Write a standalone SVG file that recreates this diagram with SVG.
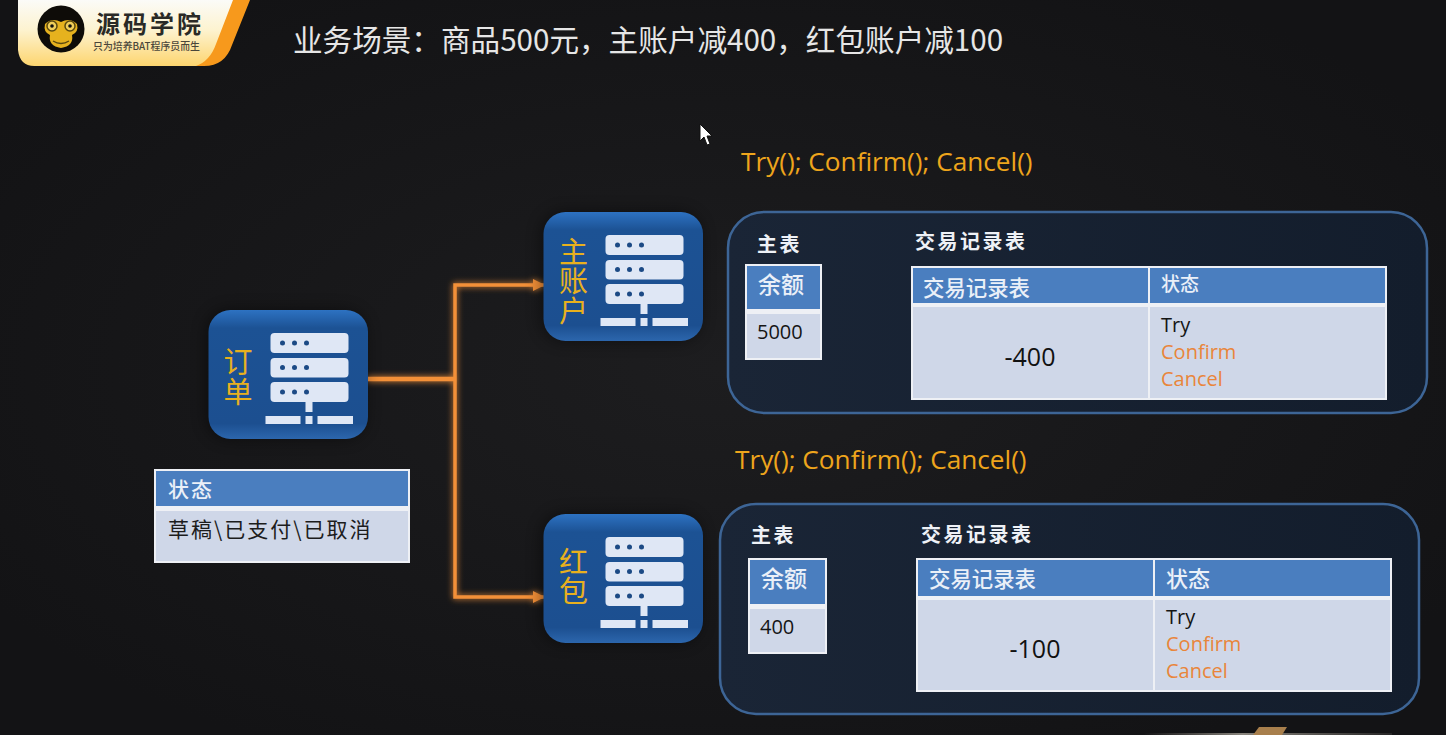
<svg xmlns="http://www.w3.org/2000/svg" width="1446" height="735" viewBox="0 0 1446 735">
<style>
text{font-family:"Noto Sans CJK SC","Noto Sans",sans-serif}
.lat{font-family:"Open Sans","Noto Sans CJK SC",sans-serif}
.api{font-size:26.200px;fill:#eea51c}
.nodeT{font-size:29px;fill:#e8b01e;writing-mode:vertical-rl;letter-spacing:.5px}
.cap{font-size:20px;fill:#eef1f6;font-weight:700;letter-spacing:2.500px}
.th{fill:#4a7ebf}
.td{fill:#cfd7e8}
.frame{fill:#eef0f5}
.thT{font-size:21.400px;fill:#eaf0f8;font-weight:500}
.num{font-size:25px;fill:#111;text-anchor:middle}
.sm{font-size:20px;fill:#151515}
.or{font-size:20px;fill:#e9853a}
.panel{fill:url(#panelG);stroke:#3d6596;stroke-width:2.500}
.wire{fill:none;stroke:#f39038;stroke-linejoin:miter}
</style>
<defs>
<radialGradient id="bg" cx="50%" cy="50%" r="60%"><stop offset="0" stop-color="#1d1d1f"/><stop offset="1" stop-color="#131315"/></radialGradient>
<linearGradient id="panelG" x1="0" y1="0" x2="1" y2="0"><stop offset="0" stop-color="#1a2536"/><stop offset="1" stop-color="#131d2c"/></linearGradient>
<linearGradient id="nodeG" x1="0" y1="0" x2="0" y2="1"><stop offset="0" stop-color="#2d72c2"/><stop offset=".14" stop-color="#1c5294"/><stop offset=".88" stop-color="#1c4f90"/><stop offset="1" stop-color="#2c66ad"/></linearGradient>
<linearGradient id="logoG" x1="0" y1="0" x2="0" y2="1"><stop offset="0" stop-color="#fbfbf8"/><stop offset=".45" stop-color="#fdf3d0"/><stop offset="1" stop-color="#fdd56f"/></linearGradient>
<linearGradient id="strip" x1="0" y1="0" x2="1" y2="0"><stop offset="0" stop-color="#77736c" stop-opacity="0"/><stop offset=".4" stop-color="#8a867e"/><stop offset="1" stop-color="#77736c" stop-opacity=".2"/></linearGradient>
<filter id="glow" x="-20%" y="-20%" width="140%" height="140%"><feGaussianBlur stdDeviation="3" result="b"/><feMerge><feMergeNode in="b"/><feMergeNode in="SourceGraphic"/></feMerge></filter>
<filter id="soft" x="-20%" y="-20%" width="140%" height="140%"><feGaussianBlur stdDeviation="8"/></filter>
<marker id="arr" markerUnits="userSpaceOnUse" markerWidth="14" markerHeight="14" refX="12" refY="7" orient="auto"><path d="M1 1L13 7L1 13Z" fill="#f39038"/></marker>
<g id="server">
<rect x="-2" y="0" width="159" height="129" rx="22" fill="#000" opacity=".45" filter="url(#soft)"/>
<rect width="159.500" height="129" rx="22" fill="url(#nodeG)"/>
<g fill="#dfe7f5">
<rect x="62" y="23" width="78" height="20" rx="4"/>
<rect x="62" y="48" width="78" height="19.500" rx="4"/>
<rect x="62" y="72" width="78" height="20" rx="4"/>
<rect x="97" y="92" width="7" height="10"/>
<rect x="57" y="106" width="35" height="8"/>
<rect x="97" y="106" width="7" height="8"/>
<rect x="109" y="106" width="35.500" height="8"/>
</g>
<g fill="#1c4a85">
<circle cx="74" cy="33" r="2.500"/><circle cx="86" cy="33" r="2.500"/><circle cx="98" cy="33" r="2.500"/>
<circle cx="74" cy="57.500" r="2.500"/><circle cx="86" cy="57.500" r="2.500"/><circle cx="98" cy="57.500" r="2.500"/>
<circle cx="74" cy="82" r="2.500"/><circle cx="86" cy="82" r="2.500"/><circle cx="98" cy="82" r="2.500"/>
</g>
</g>
</defs>
<rect width="1446" height="735" fill="url(#bg)"/>

<g id="logo">
<path d="M200 0H250L232 45Q225 66 204 66H180Z" fill="#f7991c"/>
<path d="M18 0H233L216 44Q210 61 196 66H36Q20 67 18 50Z" fill="url(#logoG)"/>
<circle cx="61" cy="29" r="23.500" fill="#0e0c08"/>
<path d="M45 24Q52 17 61 22Q70 17 77 24Q79 32 72 35Q74 46 61 48Q48 46 50 35Q43 32 45 24Z" fill="#e6b21e"/>
<circle cx="52" cy="26" r="5" fill="#f1cf5a" stroke="#5b4a10" stroke-width="1.500"/><circle cx="70" cy="26" r="5" fill="#f1cf5a" stroke="#5b4a10" stroke-width="1.500"/>
<circle cx="52" cy="26" r="1.800" fill="#111"/><circle cx="70" cy="26" r="1.800" fill="#111"/>
<path d="M53 41Q61 46 69 41" fill="none" stroke="#5b4a10" stroke-width="1.300"/>
<text x="96" y="33" font-size="24" font-weight="700" fill="#2a2a26" letter-spacing="3">源码学院</text>
<text x="93" y="50" font-size="9.900" fill="#4a463a" font-weight="500">只为培养BAT程序员而生</text>
</g>

<text id="title" x="293" y="51" font-size="29.600" fill="#e6e6e6" font-weight="400">业务场景：商品500元，主账户减400，红包账户减100</text>

<g id="cursor"><path d="M700 124V141L704 137L707 145L710 144L707 136L712 136Z" fill="#fff" stroke="#111" stroke-width="1"/></g>

<g id="connectors" filter="url(#glow)">
<path class="wire" stroke-width="4.500" d="M367 379H456"/>
<path class="wire" stroke-width="3.500" marker-end="url(#arr)" d="M455 379V285H544"/>
<path class="wire" stroke-width="3.500" marker-end="url(#arr)" d="M455 379V597H544"/>
</g>

<g id="node-order" transform="translate(208.500 310)">
<use href="#server"/>
<text class="nodeT" x="29.500" y="37.500" style="letter-spacing:1px">订单</text>
</g>

<g id="table-order-state">
<rect class="frame" x="154" y="469" width="256" height="94"/>
<rect class="th" x="156" y="471" width="252" height="35"/>
<rect class="td" x="156" y="511" width="252" height="50"/>
<text x="168" y="497" font-size="21" fill="#eaf0f8" font-weight="500" letter-spacing="2">状态</text>
<text x="168" y="537" font-size="21" fill="#1c1c1c" letter-spacing="2">草稿\已支付\已取消</text>
</g>

<g id="node-main" transform="translate(543.500 212)">
<use href="#server"/>
<text class="nodeT" x="30" y="25">主账户</text>
</g>

<g id="node-redpacket" transform="translate(543.500 514)">
<use href="#server"/>
<text class="nodeT" x="30" y="33">红包</text>
</g>

<g id="panel-main">
<text class="lat api" x="741" y="171">Try(); Confirm(); Cancel()</text>
<rect class="panel" x="728" y="212" width="699" height="201" rx="36"/>
<text class="cap" x="757" y="252">主表</text>
<text class="cap" x="915" y="249">交易记录表</text>
<rect class="frame" x="745" y="264" width="77" height="96"/>
<rect class="th" x="747" y="266" width="73" height="43"/>
<rect class="td" x="747" y="314" width="73" height="44"/>
<text class="thT" x="758" y="293" style="font-size:23px">余额</text>
<text class="lat sm" x="757" y="339">5000</text>
<rect class="frame" x="911" y="266" width="476" height="134"/>
<rect class="th" x="913" y="268" width="235" height="35"/>
<rect class="th" x="1150" y="268" width="235" height="35"/>
<rect class="td" x="913" y="307" width="235" height="91"/>
<rect class="td" x="1150" y="307" width="235" height="91"/>
<text class="thT" x="923" y="296">交易记录表</text>
<text class="thT" x="1161" y="291" style="font-size:19px">状态</text>
<text class="lat num" x="1030" y="366">-400</text>
<text class="lat sm" x="1161" y="332">Try</text>
<text class="lat or" x="1161" y="359">Confirm</text>
<text class="lat or" x="1161" y="386">Cancel</text>
</g>

<g id="panel-redpacket">
<text class="lat api" x="735" y="469">Try(); Confirm(); Cancel()</text>
<rect class="panel" x="720" y="504" width="699" height="210" rx="36"/>
<text class="cap" x="751" y="543">主表</text>
<text class="cap" x="921" y="542">交易记录表</text>
<rect class="frame" x="748" y="558" width="79" height="96"/>
<rect class="th" x="750" y="560" width="75" height="44"/>
<rect class="td" x="750" y="609" width="75" height="43"/>
<text class="thT" x="761" y="587" style="font-size:23px">余额</text>
<text class="lat sm" x="760" y="634">400</text>
<rect class="frame" x="916" y="558" width="476" height="134"/>
<rect class="th" x="918" y="560" width="235" height="36"/>
<rect class="th" x="1155" y="560" width="235" height="36"/>
<rect class="td" x="918" y="600" width="235" height="90"/>
<rect class="td" x="1155" y="600" width="235" height="90"/>
<text class="thT" x="929" y="587">交易记录表</text>
<text class="thT" x="1166" y="587" style="font-size:22px">状态</text>
<text class="lat num" x="1035" y="658">-100</text>
<text class="lat sm" x="1166" y="624">Try</text>
<text class="lat or" x="1166" y="651">Confirm</text>
<text class="lat or" x="1166" y="678">Cancel</text>
</g>

<path d="M1143 733H1392V735H1143Z" fill="url(#strip)"/>
<path d="M1259 727H1287L1282 735H1253Z" fill="#a87f4c"/>
</svg>
